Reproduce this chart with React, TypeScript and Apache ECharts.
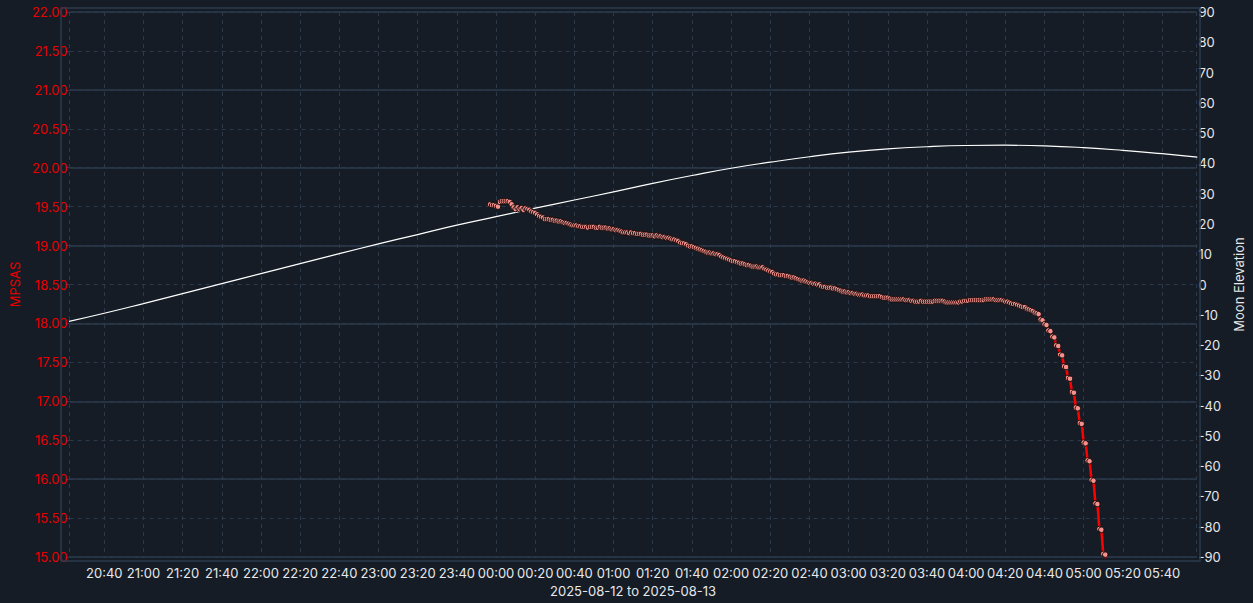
import React, { useEffect, useRef } from 'react';
import * as echarts from 'echarts';

// sky brightness readings, one per minute from mpsasStart
const mpsasStart = '2025-08-12T23:57:00';
const mpsasValues = [
  19.53, 19.52, 19.52, 19.51, 19.50,
  19.56, 19.57, 19.57, 19.57, 19.57, 19.56,
  19.53,
  19.49, 19.47,
  19.49, 19.47, 19.48, 19.46, 19.48, 19.47, 19.46,
  19.44, 19.43, 19.42,
  19.40, 19.38, 19.37, 19.36,
  19.34, 19.34, 19.34, 19.33, 19.33,
  19.32, 19.32, 19.31, 19.31, 19.30,
  19.29, 19.29, 19.28, 19.27,
  19.26, 19.26, 19.26, 19.25, 19.25,
  19.24, 19.24, 19.24, 19.23, 19.24, 19.24, 19.24, 19.23, 19.23, 19.24, 19.23, 19.23, 19.23, 19.22, 19.22,
  19.21, 19.21, 19.20, 19.20, 19.19,
  19.18, 19.17, 19.17, 19.17, 19.16, 19.17, 19.16, 19.16,
  19.15, 19.15, 19.15, 19.14, 19.14, 19.14, 19.13,
  19.13, 19.13, 19.12, 19.13, 19.12, 19.12, 19.11,
  19.11, 19.10, 19.10, 19.09, 19.08, 19.08, 19.07, 19.06,
  19.04, 19.03, 19.03, 19.02,
  19.00, 18.99, 18.99, 18.98, 18.97,
  18.96, 18.95, 18.94, 18.93, 18.92,
  18.91, 18.91, 18.90, 18.90, 18.89, 18.89, 18.88,
  18.86, 18.85, 18.84, 18.83, 18.82,
  18.81, 18.80, 18.80, 18.79, 18.78,
  18.77, 18.77, 18.76, 18.75, 18.75, 18.74,
  18.73, 18.73, 18.73, 18.72, 18.72, 18.72,
  18.70, 18.69, 18.68, 18.67, 18.66,
  18.64, 18.63, 18.63, 18.62, 18.62, 18.62, 18.61, 18.61,
  18.60, 18.59, 18.59, 18.58, 18.57,
  18.56, 18.55, 18.55, 18.54, 18.53,
  18.52, 18.52, 18.51, 18.51, 18.50, 18.50,
  18.48, 18.47, 18.47, 18.46, 18.46, 18.46, 18.45, 18.45, 18.44,
  18.43, 18.42, 18.41, 18.41, 18.40, 18.40,
  18.39, 18.39, 18.38, 18.38, 18.37, 18.37,
  18.37, 18.36, 18.36, 18.36, 18.35, 18.35, 18.35, 18.35, 18.35, 18.35, 18.34,
  18.33, 18.33, 18.33, 18.32,
  18.31, 18.31, 18.31, 18.31, 18.31, 18.31, 18.31, 18.30, 18.30,
  18.30, 18.29, 18.29, 18.28, 18.28, 18.28, 18.29,
  18.28, 18.28, 18.28, 18.28, 18.28, 18.28, 18.29,
  18.29, 18.29, 18.29, 18.29, 18.28,
  18.27, 18.27, 18.27, 18.27, 18.27, 18.27, 18.27, 18.28,
  18.28, 18.29, 18.29, 18.29, 18.30,
  18.30, 18.30, 18.30, 18.30, 18.30, 18.30, 18.30, 18.31,
  18.31, 18.31, 18.31, 18.31, 18.30,
  18.30, 18.30, 18.30, 18.29,
  18.28, 18.28, 18.27,
  18.26, 18.25, 18.25, 18.24, 18.23,
  18.22, 18.21, 18.21, 18.19,
  18.18, 18.17, 18.16, 18.14,
  18.13, 18.12, 18.05, 18.04, 17.99, 17.98, 17.91, 17.90, 17.83, 17.82,
  17.72, 17.71, 17.60, 17.59, 17.45, 17.44, 17.30, 17.29, 17.12, 17.11,
  16.92, 16.91, 16.72, 16.71, 16.47, 16.46, 16.24, 16.23, 15.99, 15.98,
  15.69, 15.68, 15.36, 15.35, 15.04, 15.03, 14.70
];

// moon elevation in degrees
const moonTimes = [
  '2025-08-12T20:22:00', '2025-08-12T20:40:00', '2025-08-12T21:00:00', '2025-08-12T21:20:00',
  '2025-08-12T21:40:00', '2025-08-12T22:00:00', '2025-08-12T22:20:00', '2025-08-12T22:40:00',
  '2025-08-12T23:00:00', '2025-08-12T23:20:00', '2025-08-12T23:40:00', '2025-08-13T00:00:00',
  '2025-08-13T00:20:00', '2025-08-13T00:40:00', '2025-08-13T01:00:00', '2025-08-13T01:20:00',
  '2025-08-13T01:40:00', '2025-08-13T02:00:00', '2025-08-13T02:20:00', '2025-08-13T02:40:00',
  '2025-08-13T03:00:00', '2025-08-13T03:20:00', '2025-08-13T03:40:00', '2025-08-13T04:00:00',
  '2025-08-13T04:20:00', '2025-08-13T04:40:00', '2025-08-13T05:00:00', '2025-08-13T05:20:00',
  '2025-08-13T05:40:00', '2025-08-13T05:58:00'
];
const moonValues = [
  -12.2, -9.5, -6.3, -3.0, 0.3, 3.6, 6.9, 10.2, 13.4, 16.5,
  19.6, 22.4, 25.2, 27.9, 30.6, 33.4, 36.0, 38.4, 40.4, 42.2,
  43.7, 44.8, 45.5, 45.9, 46.0, 45.8, 45.2, 44.3, 43.2, 42.1
];

// x axis runs in minutes after this moment
const axisOrigin = '2025-08-12T20:00:00';
const xMin = '2025-08-12T20:22:18';
const xMax = '2025-08-13T05:57:36';
const xTitle = '2025-08-12 to 2025-08-13';

const BG = '#151c25';
const GRID = '#2a3a4b';
const RED = '#e80000';
const TEXT = '#e6e8eb';
const FONT = 'Inter, "Noto Sans", sans-serif';
const FS = 13;

const originMs = new Date(axisOrigin).getTime();
const toMin = (t: string | number) => ((typeof t === 'number' ? t : new Date(t).getTime()) - originMs) / 60000;
const pad = (n: number) => String(n).padStart(2, '0');
const minLabel = (m: number) => {
  const total = Math.round(m) + 20 * 60;
  return `${pad(Math.floor(total / 60) % 24)}:${pad(total % 60)}`;
};

const App: React.FC = () => {
  const chartRef = useRef<HTMLDivElement>(null);

  useEffect(() => {
    if (!chartRef.current) return;
    const chart = echarts.init(chartRef.current, null, { renderer: 'svg' });

    const t0 = new Date(mpsasStart).getTime();
    const mpsasData = mpsasValues.map((v, i) => [toMin(t0 + i * 60000), v]);
    const moonData = moonTimes.map((t, i) => [toMin(t), moonValues[i]]);

    const option: echarts.EChartsOption = {
      animation: false,
      backgroundColor: BG,
      textStyle: { fontFamily: FONT },
      grid: { left: 61, right: 53, top: 12, bottom: 46 },
      xAxis: {
        type: 'value',
        min: toMin(xMin),
        max: toMin(xMax),
        splitNumber: 29,
        offset: 4,
        axisLine: { show: false },
        axisTick: { show: true, length: 4, lineStyle: { color: GRID } },
        axisLabel: {
          formatter: (v: number) => minLabel(v),
          color: TEXT,
          fontSize: FS,
          fontFamily: FONT,
          margin: 5,
          showMinLabel: false,
          showMaxLabel: false,
          hideOverlap: false
        },
        splitLine: { show: true, lineStyle: { color: GRID, type: [4, 4], width: 1 } },
        name: xTitle,
        nameLocation: 'middle',
        nameGap: 23,
        nameTextStyle: { color: TEXT, fontSize: FS, fontFamily: FONT }
      },
      yAxis: [
        {
          type: 'value',
          position: 'left',
          min: 15,
          max: 22,
          interval: 0.5,
          axisLine: { show: false },
          axisTick: { show: true, length: 4, lineStyle: { color: GRID } },
          axisLabel: {
            color: RED,
            fontSize: FS,
            fontFamily: FONT,
            margin: 2,
            formatter: (v: number) => v.toFixed(2)
          },
          splitLine: { show: true, lineStyle: { color: GRID, type: [4, 4], width: 1 } },
          name: 'MPSAS',
          nameLocation: 'middle',
          nameRotate: 90,
          nameGap: 42,
          nameTextStyle: { color: RED, fontSize: FS, fontFamily: FONT }
        },
        {
          type: 'value',
          position: 'right',
          min: -90,
          max: 90,
          interval: 10,
          axisLine: { show: false },
          axisTick: { show: false },
          axisLabel: { color: TEXT, fontSize: FS, fontFamily: FONT, margin: 2 },
          splitLine: { show: false },
          name: 'Moon Elevation',
          nameLocation: 'middle',
          nameRotate: 90,
          nameGap: 34,
          nameTextStyle: { color: TEXT, fontSize: FS, fontFamily: FONT }
        },
        {
          // solid lines on whole MPSAS values
          type: 'value',
          position: 'left',
          min: 15,
          max: 22,
          interval: 1,
          axisLine: { show: false },
          axisTick: { show: false },
          axisLabel: { show: false },
          splitLine: { show: true, lineStyle: { color: GRID, type: 'solid', width: 1.5 } }
        }
      ],
      graphic: [
        {
          type: 'rect',
          shape: { x: 61, y: 8, width: 1139, height: 553 },
          style: { fill: 'none', stroke: GRID, lineWidth: 1.5 },
          silent: true,
          z: 1
        }
      ],
      series: [
        {
          name: 'Moon Elevation',
          type: 'line',
          yAxisIndex: 1,
          data: moonData,
          showSymbol: false,
          smooth: true,
          lineStyle: { color: '#ffffff', width: 1.2 },
          z: 2
        },
        {
          name: 'MPSAS',
          type: 'line',
          yAxisIndex: 0,
          data: mpsasData,
          symbol: 'circle',
          symbolSize: 5.5,
          showSymbol: true,
          showAllSymbol: true,
          itemStyle: { color: '#f4918c', borderColor: '#1a0d0d', borderWidth: 1 },
          lineStyle: { color: '#ff0000', width: 2.5 },
          z: 3
        }
      ]
    };

    // eslint-disable-next-line @typescript-eslint/no-explicit-any
    chart.setOption(option as any);

    return () => {
      chart.dispose();
    };
  }, []);

  return (
    <div
      ref={chartRef}
      style={{ position: 'fixed', left: 0, top: 0, width: 1253, height: 603 }}
    />
  );
};

export default App;
